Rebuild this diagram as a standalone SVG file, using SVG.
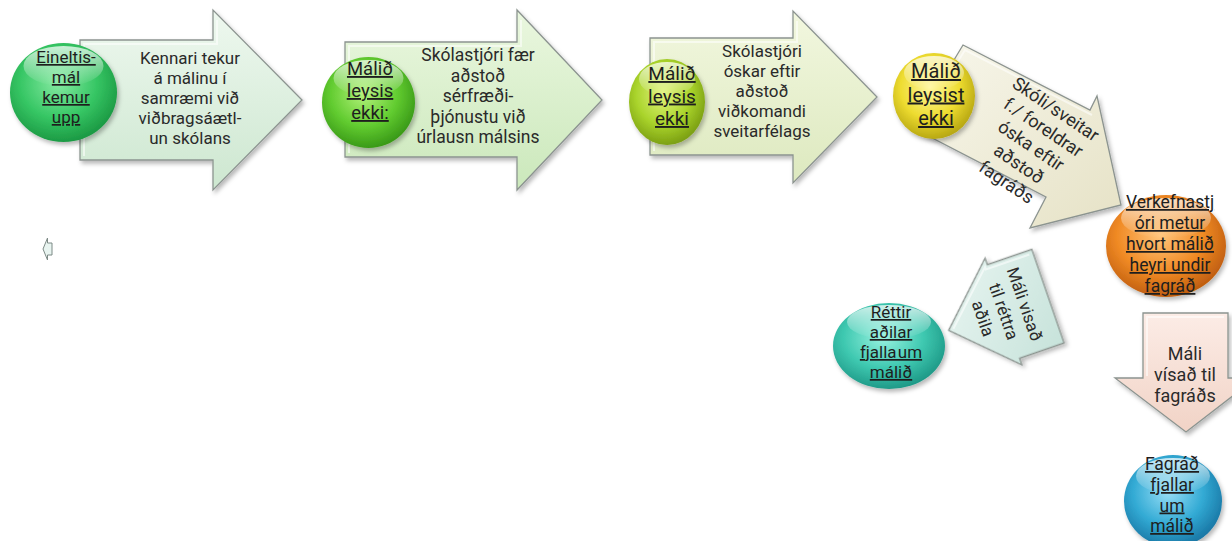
<svg xmlns="http://www.w3.org/2000/svg" width="1232" height="541" viewBox="0 0 1232 541">
<defs>
<style>
.t{font-family:Roboto,"Liberation Sans",sans-serif;fill:#2a2a2a;text-anchor:middle;font-size:17px}
.e{text-decoration:underline;fill:#1e1e1e}
.arrow{stroke:#8c9490;stroke-width:1.3;stroke-linejoin:miter;filter:url(#sh)}
.inner{fill:none;stroke:#ffffff;stroke-opacity:0.55;stroke-width:2}
.node{filter:url(#sh)}
.gloss{fill:url(#gloss)}
</style>
<filter id="sh" x="-20%" y="-20%" width="150%" height="150%">
<feDropShadow dx="2" dy="3" stdDeviation="2.2" flood-color="#000" flood-opacity="0.28"/>
</filter>
<linearGradient id="gloss" x1="0" y1="0" x2="0" y2="1">
<stop offset="0" stop-color="#fff" stop-opacity="0.75"/>
<stop offset="1" stop-color="#fff" stop-opacity="0"/>
</linearGradient>
<linearGradient id="a1" x1="0" y1="0" x2="0" y2="1"><stop offset="0" stop-color="#eef8ef"/><stop offset="1" stop-color="#cde7d0"/></linearGradient>
<linearGradient id="a2" x1="0" y1="0" x2="0" y2="1"><stop offset="0" stop-color="#eaf7df"/><stop offset="1" stop-color="#cbe8bb"/></linearGradient>
<linearGradient id="a3" x1="0" y1="0" x2="0" y2="1"><stop offset="0" stop-color="#f2f7df"/><stop offset="1" stop-color="#dde9bf"/></linearGradient>
<linearGradient id="a4" x1="0" y1="0" x2="1" y2="1"><stop offset="0" stop-color="#f8f7ec"/><stop offset="1" stop-color="#e6e2c6"/></linearGradient>
<linearGradient id="a5" x1="0" y1="0" x2="1" y2="1"><stop offset="0" stop-color="#eaf6f2"/><stop offset="1" stop-color="#c6e2da"/></linearGradient>
<linearGradient id="a6" x1="0" y1="0" x2="0" y2="1"><stop offset="0" stop-color="#fcece6"/><stop offset="1" stop-color="#f1d3c6"/></linearGradient>
<radialGradient id="e1" cx="0.45" cy="0.4" r="0.6"><stop offset="0" stop-color="#86eaa2"/><stop offset="0.6" stop-color="#36c664"/><stop offset="1" stop-color="#1c9a44"/></radialGradient>
<radialGradient id="e2" cx="0.45" cy="0.4" r="0.6"><stop offset="0" stop-color="#b4f27c"/><stop offset="0.6" stop-color="#62cc30"/><stop offset="1" stop-color="#3a9a18"/></radialGradient>
<radialGradient id="e3" cx="0.45" cy="0.4" r="0.6"><stop offset="0" stop-color="#e2f47e"/><stop offset="0.6" stop-color="#aad42c"/><stop offset="1" stop-color="#7ca012"/></radialGradient>
<radialGradient id="e4" cx="0.45" cy="0.4" r="0.6"><stop offset="0" stop-color="#fff7a0"/><stop offset="0.6" stop-color="#eedc30"/><stop offset="1" stop-color="#b8a812"/></radialGradient>
<radialGradient id="e5" cx="0.45" cy="0.4" r="0.6"><stop offset="0" stop-color="#ffc47a"/><stop offset="0.6" stop-color="#f08a24"/><stop offset="1" stop-color="#c05e10"/></radialGradient>
<radialGradient id="e6" cx="0.45" cy="0.4" r="0.6"><stop offset="0" stop-color="#98f2e0"/><stop offset="0.6" stop-color="#3ec8b0"/><stop offset="1" stop-color="#1f9a88"/></radialGradient>
<radialGradient id="e7" cx="0.45" cy="0.4" r="0.6"><stop offset="0" stop-color="#98def6"/><stop offset="0.6" stop-color="#32aad4"/><stop offset="1" stop-color="#1a78a6"/></radialGradient>
</defs>
<rect width="1232" height="541" fill="#ffffff"/>

<g id="connectors">
  <g id="arrow1">
    <polygon class="arrow" fill="url(#a1)" points="80,40 213,40 213,10 302,100 213,190 213,160 80,160"/>
    <polyline class="inner" points="84,156 84,44 217,44 217,20"/>
    <text class="t" x="190" y="64">Kennari tekur</text>
    <text class="t" x="190" y="84">á málinu í</text>
    <text class="t" x="190" y="104">samræmi við</text>
    <text class="t" x="190" y="124">viðbragsáætl-</text>
    <text class="t" x="190" y="144">un skólans</text>
  </g>
  <g id="arrow2">
    <polygon class="arrow" fill="url(#a2)" points="345,42 517,42 517,10 602,100 517,190 517,157 345,157"/>
    <polyline class="inner" points="349,153 349,46 521,46 521,20"/>
    <text class="t" style="font-size:17.5px" x="478" y="61">Skólastjóri fær</text>
    <text class="t" style="font-size:17.5px" x="478" y="81.5">aðstoð</text>
    <text class="t" style="font-size:17.5px" x="478" y="102">sérfræði-</text>
    <text class="t" style="font-size:17.5px" x="478" y="122.5">þjónustu við</text>
    <text class="t" style="font-size:17.5px" x="478" y="143">úrlausn málsins</text>
  </g>
  <g id="arrow3">
    <polygon class="arrow" fill="url(#a3)" points="650,38 793,38 793,11 877,97 793,183 793,155 650,155"/>
    <polyline class="inner" points="654,151 654,42 797,42 797,21"/>
    <text class="t" x="762" y="57">Skólastjóri</text>
    <text class="t" x="762" y="77">óskar eftir</text>
    <text class="t" x="762" y="97">aðstoð</text>
    <text class="t" x="762" y="117">viðkomandi</text>
    <text class="t" x="762" y="137">sveitarfélags</text>
  </g>
  <g id="arrow4">
    <polygon class="arrow" fill="url(#a4)" points="963,45 1090,110 1097,96 1121,205 1030,228 1046,197 913,128"/>
    <polyline class="inner" points="918,126 965,50 1092,115"/>
    <g transform="translate(1035,140) rotate(34)">
      <text class="t" style="font-size:18px" x="0" y="-31">Skóli/sveitar</text>
      <text class="t" style="font-size:18px" x="0" y="-9">f./ foreldrar</text>
      <text class="t" style="font-size:18px" x="0" y="13">óska eftir</text>
      <text class="t" style="font-size:18px" x="0" y="35">aðstoð</text>
      <text class="t" style="font-size:18px" x="0" y="57">fagráðs</text>
    </g>
  </g>
  <g id="arrow5" transform="translate(1003.5,311.5) rotate(-19)">
    <polygon class="arrow" fill="url(#a5)" points="-58,0 0,-56.5 0,-49.5 47,-49.5 47,49.5 0,49.5 0,56.5"/>
    <polyline class="inner" points="-53,0 -3,-48 -3,-45.5 43,-45.5"/>
    <g transform="rotate(90)">
      <text class="t" x="0" y="-16.5">Máli visað</text>
      <text class="t" x="0" y="5.5">til réttra</text>
      <text class="t" x="0" y="27.5">aðila</text>
    </g>
  </g>
  <g id="arrow6">
    <polygon class="arrow" fill="url(#a6)" points="1143,313 1228,313 1228,378 1256,378 1186,432 1115,378 1143,378"/>
    <polyline class="inner" points="1147,376 1147,317 1224,317"/>
    <text class="t" style="font-size:18px" x="1185" y="360">Máli</text>
    <text class="t" style="font-size:18px" x="1185" y="381">vísað til</text>
    <text class="t" style="font-size:18px" x="1185" y="402">fagráðs</text>
  </g>
  <g id="small-arrow">
    <polygon points="43,249 47.5,238 47.5,243 52,243 52,255 47.5,255 47.5,260" fill="#e8f4f0" stroke="#7d8a86" stroke-width="1"/>
  </g>
</g>

<g id="node1">
  <ellipse class="node" cx="63.5" cy="92.5" rx="53.5" ry="49.5" fill="url(#e1)"/>
  <ellipse class="gloss" cx="63.5" cy="66" rx="40" ry="20"/>
  <text class="t e" x="66" y="63">Eineltis-</text>
  <text class="t e" x="66" y="83">mál</text>
  <text class="t e" x="66" y="103">kemur</text>
  <text class="t e" x="66" y="123">upp</text>
</g>
<g id="node2">
  <ellipse class="node" cx="368.5" cy="102.5" rx="46.5" ry="45.5" fill="url(#e2)"/>
  <ellipse class="gloss" cx="368.5" cy="78" rx="35" ry="18"/>
  <text class="t e" style="font-size:18.5px" x="370" y="75">Málið</text>
  <text class="t e" style="font-size:18.5px" x="370" y="97">leysis</text>
  <text class="t e" style="font-size:18.5px" x="370" y="119">ekki:</text>
</g>
<g id="node3">
  <ellipse class="node" cx="667" cy="102" rx="38" ry="43" fill="url(#e3)"/>
  <ellipse class="gloss" cx="667" cy="79" rx="28" ry="17"/>
  <text class="t e" style="font-size:19px" x="672" y="80">Málið</text>
  <text class="t e" style="font-size:19px" x="672" y="102.5">leysis</text>
  <text class="t e" style="font-size:19px" x="672" y="125">ekki</text>
</g>
<g id="node4">
  <ellipse class="node" cx="934" cy="96" rx="41" ry="43" fill="url(#e4)"/>
  <ellipse class="gloss" cx="934" cy="73" rx="30" ry="17"/>
  <text class="t e" style="font-size:20px" x="936" y="78">Málið</text>
  <text class="t e" style="font-size:20px" x="936" y="101.5">leysist</text>
  <text class="t e" style="font-size:20px" x="936" y="125">ekki</text>
</g>
<g id="node5">
  <ellipse class="node" cx="1166" cy="246" rx="60" ry="51" fill="url(#e5)"/>
  <ellipse class="gloss" cx="1166" cy="218" rx="45" ry="20"/>
  <text class="t e" style="font-size:17.5px" x="1170" y="208">Verkefnastj</text>
  <text class="t e" style="font-size:17.5px" x="1170" y="229">óri metur</text>
  <text class="t e" style="font-size:17.5px" x="1170" y="250">hvort málið</text>
  <text class="t e" style="font-size:17.5px" x="1170" y="271">heyri undir</text>
  <text class="t e" style="font-size:17.5px" x="1170" y="292">fagráð</text>
</g>
<g id="node6">
  <ellipse class="node" cx="889" cy="346" rx="56" ry="43" fill="url(#e6)"/>
  <ellipse class="gloss" cx="889" cy="322" rx="42" ry="17"/>
  <text class="t e" x="891" y="318">Réttir</text>
  <text class="t e" x="891" y="338">aðilar</text>
  <text class="t e" style="word-spacing:-3px" x="891" y="358">fjalla um</text>
  <text class="t e" x="891" y="378">málið</text>
</g>
<g id="node7">
  <ellipse class="node" cx="1173" cy="501" rx="49" ry="46" fill="url(#e7)"/>
  <ellipse class="gloss" cx="1173" cy="476" rx="37" ry="18"/>
  <text class="t e" style="font-size:17.5px" x="1172" y="470">Fagráð</text>
  <text class="t e" style="font-size:17.5px" x="1172" y="491">fjallar</text>
  <text class="t e" style="font-size:17.5px" x="1172" y="511.5">um</text>
  <text class="t e" style="font-size:17.5px" x="1172" y="532">málið</text>
</g>
</svg>
